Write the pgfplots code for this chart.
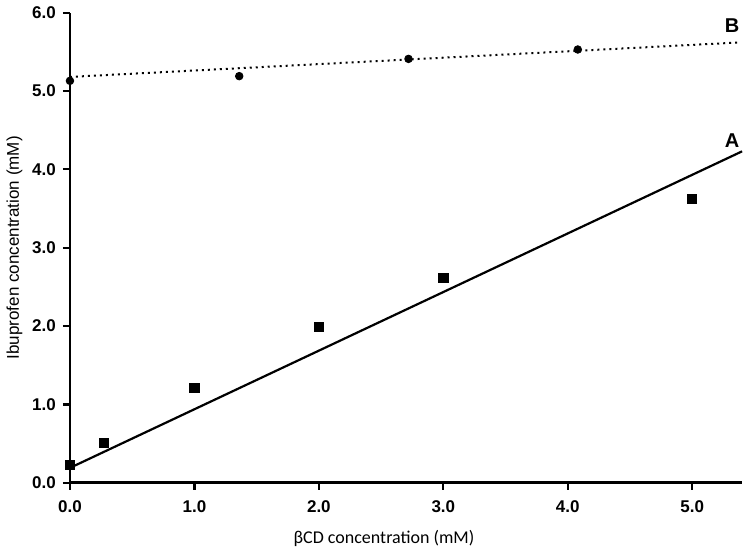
\documentclass[border=0pt]{standalone}
\usepackage{pgfplots}
\pgfplotsset{compat=1.18}
\usepackage{fontspec}
\setmainfont{Liberation Sans}
\newfontfamily\calib{Carlito}
\begin{document}
\begin{tikzpicture}
\begin{axis}[
    scale only axis,
    width=336pt, height=235pt,
    xmin=0, xmax=5.4,
    ymin=0, ymax=6,
    axis lines=left,
    axis line style={line width=1.35pt, -},
    xtick={0,1,2,3,4,5},
    ytick={0,1,2,3,4,5,6},
    tick align=outside,
    major tick length=3.5pt,
    tick style={line width=1.1pt, black},
    /pgf/number format/.cd, fixed, fixed zerofill, precision=1, assume math mode=true,
    /pgfplots/.cd,
    tick label style={font=\fontsize{8.5}{10}\selectfont\bfseries},
    xticklabel style={yshift=-2pt},
    xlabel={\calib βCD concentration (mM)},
    ylabel={Ibuprofen concentration (mM)},
    xlabel style={font=\fontsize{9}{11}\selectfont, yshift=-2pt, xshift=-11pt},
    ylabel style={font=\fontsize{8.5}{10}\selectfont, yshift=-2pt},
    clip=false,
]
% line A (fit)
\addplot[black, line width=1.1pt] coordinates {(0,0.19) (5.4,4.23)};
% line B (fit)
\addplot[black, line width=1pt, dotted] coordinates {(0,5.18) (5.38,5.62)};
% series A
\addplot[only marks, mark=square*, mark size=2.3pt, black] coordinates {
    (0,0.23) (0.27,0.51) (1.0,1.21) (2.0,1.99) (3.0,2.61) (5.0,3.62)
};
% series B
\addplot[only marks, mark=*, mark size=1.9pt, black] coordinates {
    (0,5.13) (1.36,5.19) (2.72,5.41) (4.08,5.53)
};
\node[font=\fontsize{10}{12}\selectfont\bfseries] at (axis cs:5.32,4.37) {A};
\node[font=\fontsize{10}{12}\selectfont\bfseries] at (axis cs:5.32,5.83) {B};
\end{axis}
\end{tikzpicture}
\end{document}
